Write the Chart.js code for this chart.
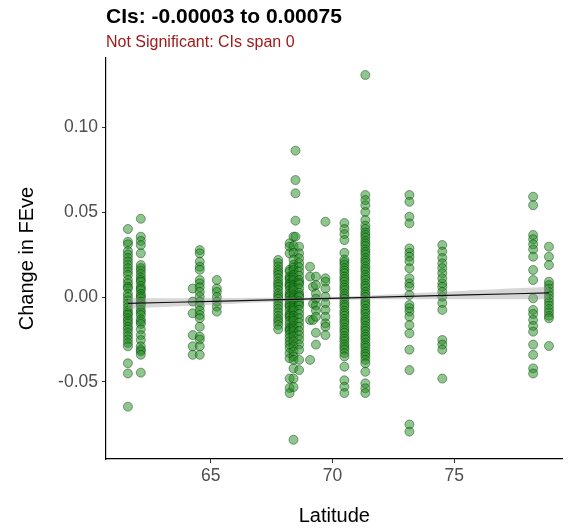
<!DOCTYPE html>
<html><head><meta charset="utf-8">
<script src="https://cdn.jsdelivr.net/npm/chart.js@4.4.1/dist/chart.umd.min.js"></script>
<style>html,body{margin:0;padding:0;background:#fff;} #wrap{width:568px;height:531px;}</style>
</head><body><div id="wrap"><canvas id="c" width="568" height="531"></canvas></div>
<script>
// ---- data ----
const titleText = "CIs: -0.00003 to 0.00075";
const subtitleText = "Not Significant: CIs span 0";
const xTicks = [65, 70, 75];
const yTicks = [-0.05, 0.00, 0.05, 0.10];

const siteLats = [61.60, 62.13, 64.26, 64.55, 65.25, 67.77, 68.24, 68.40, 68.48, 68.63, 69.08, 69.20, 69.32, 69.71, 70.49, 71.35, 73.16, 74.51, 78.24, 78.89];

const col61_60 = [0.040, 0.0325, 0.031, 0.027, 0.025, 0.023, 0.021, 0.019, 0.017, 0.015, 0.013, 0.010, 0.008, 0.006, 0.005, 0.002, 0.000, -0.002, -0.004, -0.006, -0.008, -0.0095, -0.0105, -0.0125, -0.014, -0.0155, -0.0175, -0.019, -0.021, -0.023, -0.025, -0.027, -0.029, -0.039, -0.045, -0.0645];
const col62_13 = [0.046, 0.0355, 0.033, 0.0305, 0.0257, 0.0188, 0.017, 0.0155, 0.0135, 0.0116, 0.010, 0.009, 0.0065, 0.005, 0.004, 0.0018, 0.0005, -0.0008, -0.0027, -0.004, -0.0053, -0.0076, -0.009, -0.0106, -0.0131, -0.0145, -0.0159, -0.019, -0.0224, -0.0253, -0.029, -0.031, -0.032, -0.034, -0.0445];
const col64_26 = [0.005, -0.0027, -0.0096, -0.0224, -0.029, -0.034];
const col64_55 = [0.0276, 0.0257, 0.0208, 0.0178, 0.016, 0.010, 0.008, 0.0057, 0.003, 0.0002, -0.0027, -0.0053, -0.008, -0.0106, -0.0125, -0.0175, -0.0233, -0.025, -0.029, -0.034];
const col65_25 = [0.010, 0.005, 0.003, 0.000, -0.0027, -0.0057, -0.0086];
const col67_77 = [0.0218, 0.020, 0.018, 0.016, 0.0145, 0.013, 0.011, 0.009, 0.0075, 0.006, 0.004, 0.002, 0.0005, -0.001, -0.003, -0.005, -0.007, -0.009, -0.011, -0.013, -0.0145, -0.0165, -0.019];
const col68_24 = [0.0316, 0.0296, 0.0257, 0.016, 0.0149, 0.012, 0.011, 0.010, 0.008, 0.007, 0.006, 0.004, 0.002, 0.001, 0.000, -0.002, -0.004, -0.005, -0.006, -0.008, -0.010, -0.011, -0.012, -0.014, -0.016, -0.018, -0.019, -0.020, -0.022, -0.024, -0.026, -0.028, -0.030, -0.033, -0.036, -0.048, -0.0535, -0.0565];
const col68_40 = [0.0355, 0.030, 0.026, 0.022, 0.019, 0.0175, 0.016, 0.013, 0.0115, 0.010, 0.007, 0.0055, 0.004, 0.001, -0.0005, -0.002, -0.005, -0.0065, -0.008, -0.011, -0.0125, -0.014, -0.017, -0.0185, -0.020, -0.023, -0.026, -0.029, -0.032, -0.035, -0.037, -0.042, -0.048, -0.053, -0.084];
const col68_48 = [0.0861, 0.0688, 0.061, 0.0449, 0.0355];
const col68_63 = [0.0296, 0.0257, 0.0228, 0.020, 0.0175, 0.015, 0.0125, 0.010, 0.0085, 0.0075, 0.005, 0.0025, 0.001, 0.000, -0.0025, -0.004, -0.005, -0.0075, -0.010, -0.0125, -0.015, -0.0175, -0.020, -0.0225, -0.025, -0.028, -0.031, -0.037, -0.043];
const col69_08 = [0.0178, 0.012, -0.0135, -0.037];
const col69_20 = [0.006, -0.004, -0.0135];
const col69_32 = [0.012, 0.007, 0.002, -0.001, -0.005, -0.008, -0.0116, -0.021, -0.028];
const col69_71 = [0.0443, 0.011, 0.009, 0.005, 0.0002, -0.0037, -0.0076, -0.0116, -0.0155, -0.0175, -0.0224];
const col70_49 = [0.0435, 0.040, 0.037, 0.0335, 0.026, 0.022, 0.0205, 0.019, 0.017, 0.0155, 0.014, 0.012, 0.0105, 0.009, 0.007, 0.0055, 0.004, 0.002, 0.0005, -0.001, -0.003, -0.0045, -0.006, -0.008, -0.0095, -0.011, -0.013, -0.0145, -0.016, -0.018, -0.0195, -0.021, -0.023, -0.0245, -0.026, -0.028, -0.0295, -0.031, -0.033, -0.035, -0.041, -0.049, -0.0528, -0.0565];
const col71_35 = [0.1306, 0.060, 0.057, 0.054, 0.050, 0.0453, 0.042, 0.040, 0.038, 0.0365, 0.035, 0.033, 0.0315, 0.030, 0.028, 0.0265, 0.025, 0.023, 0.0215, 0.020, 0.018, 0.0165, 0.015, 0.013, 0.0115, 0.010, 0.008, 0.0065, 0.005, 0.003, 0.0015, 0.000, -0.002, -0.0035, -0.005, -0.007, -0.0085, -0.010, -0.012, -0.0135, -0.015, -0.017, -0.0185, -0.020, -0.022, -0.0235, -0.025, -0.027, -0.0285, -0.030, -0.032, -0.0335, -0.035, -0.037, -0.039, -0.044, -0.0508, -0.0537, -0.0565];
const col73_16 = [0.060, 0.056, 0.0472, 0.0433, 0.0286, 0.026, 0.0237, 0.021, 0.0169, 0.011, 0.008, 0.006, 0.0012, -0.0047, -0.0065, -0.0086, -0.0116, -0.0165, -0.0214, -0.031, -0.043, -0.075, -0.0792];
const col74_51 = [0.0306, 0.0267, 0.023, 0.0198, 0.017, 0.014, 0.011, 0.008, 0.006, 0.003, 0.0002, -0.0035, -0.0076, -0.0253, -0.028, -0.031, -0.048];
const col78_24 = [0.059, 0.054, 0.0365, 0.034, 0.031, 0.028, 0.0237, 0.0159, 0.010, -0.0008, -0.0076, -0.010, -0.0135, -0.017, -0.0204, -0.028, -0.034, -0.042, -0.045];
const col78_89 = [0.0296, 0.0237, 0.0188, 0.009, 0.007, 0.005, 0.003, 0.001, -0.001, -0.003, -0.005, -0.007, -0.009, -0.011, -0.0125, -0.0288];

const siteCols = [col61_60, col62_13, col64_26, col64_55, col65_25, col67_77, col68_24, col68_40, col68_48, col68_63, col69_08, col69_20, col69_32, col69_71, col70_49, col71_35, col73_16, col74_51, col78_24, col78_89];

// linear fit and its confidence band
const fitLat  = [61.6, 63.5, 65.5, 67.5, 69.5, 71.5, 73.5, 75.5, 77.5, 78.9];
const fitMid  = [-0.0038, -0.0031, -0.0024, -0.0017, -0.0010, -0.0002, 0.0005, 0.0012, 0.0019, 0.0024];
const bandLow = [-0.0069, -0.0056, -0.0042, -0.0029, -0.0019, -0.0014, -0.0013, -0.0013, -0.0013, -0.0013];
const bandHigh= [-0.0007, -0.0007, -0.0006, -0.0005, -0.0001, 0.0009, 0.0023, 0.0037, 0.0051, 0.0061];

// ---- build ----
const pts = [];
siteLats.forEach((lat, i) => siteCols[i].forEach(v => pts.push({x: lat, y: v})));
const toXY = (xs, ys) => xs.map((x, i) => ({x, y: ys[i]}));

const FONT = '"Liberation Sans", Arial, Helvetica, sans-serif';
Chart.defaults.font.family = FONT;

new Chart(document.getElementById('c'), {
  type: 'scatter',
  data: {
    datasets: [
      {type: 'line', data: toXY(fitLat, fitMid), borderColor: '#111', borderWidth: 1.2, pointRadius: 0, fill: false, order: 0, tension: 0},
      {type: 'line', data: toXY(fitLat, bandLow), borderWidth: 0, borderColor: 'rgba(0,0,0,0)', pointRadius: 0, fill: false, order: 1, tension: 0.3},
      {type: 'line', data: toXY(fitLat, bandHigh), borderWidth: 0, borderColor: 'rgba(0,0,0,0)', pointRadius: 0, fill: '-1', backgroundColor: 'rgba(153,153,153,0.4)', order: 1, tension: 0.3},
      {type: 'scatter', data: pts, order: 2, pointRadius: 4.5, pointHoverRadius: 4.5,
       backgroundColor: 'rgba(34,139,34,0.5)', borderColor: 'rgba(0,60,0,0.5)', borderWidth: 0.9}
    ]
  },
  options: {
    responsive: false,
    animation: false,
    devicePixelRatio: 1,
    layout: {padding: 0},
    plugins: {
      legend: {display: false},
      tooltip: {enabled: false},
      title: {display: true, text: titleText, align: 'start', fullSize: false, color: '#000',
              font: {size: 21, weight: 'bold', family: FONT}, padding: {top: 5, bottom: 0}},
      subtitle: {display: true, text: subtitleText, align: 'start', fullSize: false, color: '#a11a1a',
              font: {size: 16, family: FONT}, padding: {top: 3, bottom: 5.6}}
    },
    scales: {
      x: {
        type: 'linear', min: 60.7, max: 79.45,
        afterBuildTicks: s => { s.ticks = xTicks.map(v => ({value: v})); },
        afterFit: s => { s.height = 72; },
        ticks: {color: '#4d4d4d', font: {size: 17.5}, padding: 3, maxRotation: 0, callback: v => String(v)},
        grid: {display: true, drawOnChartArea: false, drawTicks: true, tickLength: 4, color: '#333', lineWidth: 1},
        border: {display: true, color: '#000', width: 1.2},
        title: {display: true, text: 'Latitude', color: '#000', font: {size: 20}, padding: {top: 0, bottom: 3}}
      },
      y: {
        type: 'linear', min: -0.0953, max: 0.1406,
        afterBuildTicks: s => { s.ticks = yTicks.map(v => ({value: v})); },
        afterFit: s => { s.width = 106; },
        ticks: {color: '#4d4d4d', font: {size: 17.5}, padding: 4, callback: v => v.toFixed(2)},
        grid: {display: true, drawOnChartArea: false, drawTicks: true, tickLength: 4, color: '#333', lineWidth: 1},
        border: {display: true, color: '#000', width: 1.2},
        title: {display: true, text: 'Change in FEve', color: '#000', font: {size: 20}, padding: {top: 15, bottom: 0}}
      }
    }
  }
});
</script></body></html>
